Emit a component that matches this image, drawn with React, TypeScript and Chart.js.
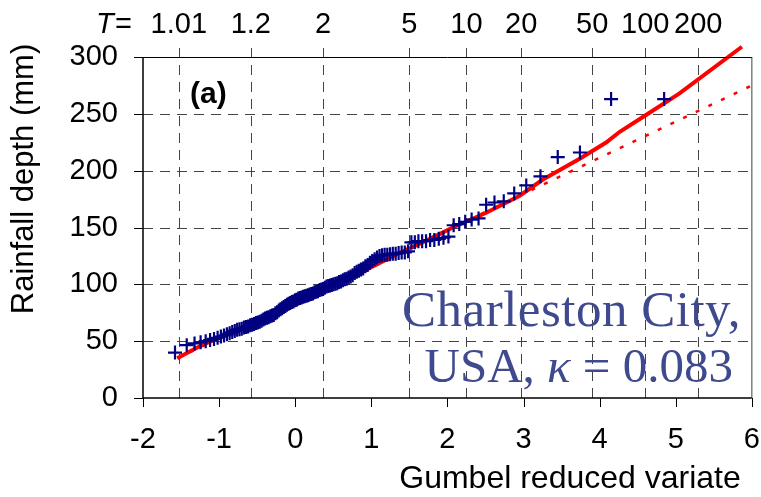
import React, { useEffect, useRef } from "react";
import { Chart, registerables } from "chart.js";

Chart.register(...registerables);

// Annual maximum daily rainfall depths (mm), sorted ascending
const depths = [
  40, 46.5, 48, 49, 50, 51, 52, 53, 54, 55,
  56, 57, 58, 59, 60, 60.5, 61, 62, 62.5, 63,
  64, 64.5, 65, 66, 66.5, 67, 68, 69, 70, 70.5,
  71, 72, 72.5, 73, 74.5, 75.5, 77, 78, 79, 80,
  81, 82, 83, 83.5, 84.5, 85, 86, 86.5, 87.5, 88,
  88.5, 89, 89.5, 90, 90.5, 91, 91.5, 92, 93, 93.5,
  94, 95, 95.5, 96, 97, 98, 98.5, 99, 99.5, 100,
  100.5, 101, 102, 102.5, 103.5, 104.5, 105, 106, 107, 108,
  110, 111, 112, 113, 114, 116, 117, 119, 120.5, 122,
  123.5, 125, 125.5, 126, 126, 126.5, 127, 127, 127.5, 128,
  128, 129, 137, 137, 138, 138, 138, 139, 139, 140,
  141, 142, 152, 153, 155, 157, 158, 170, 172, 173,
  180, 187, 195, 212, 216, 263, 263,
];

// GEV fitted curve (solid red)
const gevVariate = [-1.55, -1.3, -1.03, -0.5, 0, 0.5, 1.0, 1.37, 1.77, 2.07, 2.51, 2.95, 3.25, 3.75, 4.09, 4.26, 4.61, 5.05, 5.87];
const gevDepth = [35, 44, 52.5, 67, 82, 98, 115, 127.5, 140, 150, 163, 178, 192, 211, 225, 234, 249, 268, 309];

// Gumbel fitted line (dotted red)
const gumbelVariate = [-1.55, 6];
const gumbelDepth = [35, 275];

// Return periods shown on top
const returnPeriods = [1.01, 1.2, 2, 5, 10, 20, 50, 100, 200];
const returnPeriodLabels = ["1.01", "1.2", "2", "5", "10", "20", "50", "100", "200"];

const xMin = -2, xMax = 6, xStep = 1;
const yMin = 0, yMax = 300, yStep = 50;

const reducedVariate = (T: number) => -Math.log(-Math.log(1 - 1 / T));
const plottingPosition = (rank: number, n: number) => -Math.log(-Math.log(rank / (n + 1)));

const SANS = "'Liberation Sans', Arial, sans-serif";
const SERIF = "'Liberation Serif', 'Times New Roman', serif";

const decorPlugin = {
  id: "decor",
  beforeDatasetsDraw(chart: any) {
    const { ctx, chartArea: a, scales } = chart;
    const xs = scales.x, ys = scales.y;
    ctx.save();
    ctx.strokeStyle = "#444";
    ctx.lineWidth = 1;
    ctx.setLineDash([10, 7]);
    for (let v = yMin + yStep; v < yMax; v += yStep) {
      const py = Math.round(ys.getPixelForValue(v)) + 0.5;
      ctx.beginPath();
      ctx.moveTo(a.left, py);
      ctx.lineTo(a.right, py);
      ctx.stroke();
    }
    for (const T of returnPeriods) {
      const px = Math.round(xs.getPixelForValue(reducedVariate(T))) + 0.5;
      ctx.beginPath();
      ctx.moveTo(px, a.top - 9);
      ctx.lineTo(px, a.bottom);
      ctx.stroke();
    }
    ctx.restore();
  },
  afterDatasetsDraw(chart: any) {
    const { ctx, chartArea: a, scales } = chart;
    const xs = scales.x, ys = scales.y;
    ctx.save();
    ctx.setLineDash([]);
    ctx.strokeStyle = "#808080";
    ctx.lineWidth = 1.5;
    ctx.beginPath();
    ctx.moveTo(a.right, a.top);
    ctx.lineTo(a.right, a.bottom);
    ctx.stroke();
    ctx.strokeStyle = "#000";
    ctx.lineWidth = 1;
    ctx.beginPath();
    ctx.moveTo(a.left, a.top + 0.5);
    ctx.lineTo(a.right, a.top + 0.5);
    ctx.stroke();
    ctx.lineWidth = 1.5;
    ctx.beginPath();
    ctx.moveTo(a.left, a.top);
    ctx.lineTo(a.left, a.bottom);
    ctx.lineTo(a.right, a.bottom);
    ctx.stroke();
    ctx.lineWidth = 1;
    for (let v = yMin; v <= yMax; v += yStep) {
      const py = Math.round(ys.getPixelForValue(v)) + 0.5;
      ctx.beginPath();
      ctx.moveTo(a.left - 9, py);
      ctx.lineTo(a.left, py);
      ctx.stroke();
    }
    for (let v = xMin; v <= xMax; v += xStep) {
      const px = Math.round(xs.getPixelForValue(v)) + 0.5;
      ctx.beginPath();
      ctx.moveTo(px, a.bottom);
      ctx.lineTo(px, a.bottom + 9);
      ctx.stroke();
    }
    ctx.restore();
  },
  afterDraw(chart: any) {
    const { ctx, scales } = chart;
    const xs = scales.x;
    ctx.save();
    ctx.fillStyle = "#000";
    ctx.font = `29px ${SANS}`;
    ctx.textAlign = "center";
    ctx.textBaseline = "alphabetic";
    returnPeriods.forEach((T, i) => {
      const px = xs.getPixelForValue(reducedVariate(T));
      ctx.fillText(returnPeriodLabels[i], px, 33);
    });
    ctx.textAlign = "left";
    ctx.font = `italic 29px ${SANS}`;
    ctx.fillText("T", 96, 33);
    ctx.font = `29px ${SANS}`;
    ctx.fillText("=", 115, 33);
    ctx.font = `bold 30px ${SANS}`;
    ctx.fillText("(a)", 190, 103);
    ctx.font = `32px ${SANS}`;
    ctx.textAlign = "center";
    ctx.fillText("Gumbel reduced variate", 570, 488);
    ctx.font = `31px ${SANS}`;
    ctx.save();
    ctx.translate(33, 179);
    ctx.rotate(-Math.PI / 2);
    ctx.fillText("Rainfall depth (mm)", 0, 0);
    ctx.restore();
    // station annotation
    ctx.fillStyle = "#3F4A8E";
    ctx.textAlign = "right";
    ctx.font = `51px ${SERIF}`;
    (ctx as any).letterSpacing = "0.5px";
    ctx.fillText("Charleston City,", 741, 326);
    (ctx as any).letterSpacing = "0px";
    const right = 733;
    const partA = "USA, ";
    const partK = "\u03BA";
    const partB = " = 0.083";
    ctx.font = `49px ${SERIF}`;
    const wB = ctx.measureText(partB).width;
    const wA = ctx.measureText(partA).width;
    ctx.font = `italic 49px ${SERIF}`;
    const wK = ctx.measureText(partK).width;
    ctx.textAlign = "left";
    let x = right - wA - wK - wB;
    ctx.font = `49px ${SERIF}`;
    ctx.fillText(partA, x, 382);
    x += wA;
    ctx.font = `italic 49px ${SERIF}`;
    ctx.fillText(partK, x, 382);
    x += wK;
    ctx.font = `49px ${SERIF}`;
    ctx.fillText(partB, x, 382);
    ctx.restore();
  },
};

export default function App() {
  const ref = useRef<HTMLCanvasElement | null>(null);
  useEffect(() => {
    if (!ref.current) return;
    const n = depths.length;
    const obs = depths.map((d, i) => ({ x: plottingPosition(i + 1, n), y: d }));
    const gev = gevVariate.map((u, i) => ({ x: u, y: gevDepth[i] }));
    const gum = gumbelVariate.map((u, i) => ({ x: u, y: gumbelDepth[i] }));
    const tickFont = { family: SANS, size: 29 };
    const chart = new Chart(ref.current, {
      type: "scatter",
      data: {
        datasets: [
          {
            label: "Observed",
            data: obs,
            showLine: false,
            pointStyle: "cross",
            pointRadius: 7,
            pointBorderWidth: 2.2,
            pointBorderColor: "#000080",
            pointBackgroundColor: "#000080",
          },
          {
            label: "GEV",
            data: gev,
            showLine: true,
            borderColor: "#FF0000",
            borderWidth: 4,
            pointRadius: 0,
            fill: false,
            clip: false,
          } as any,
          {
            label: "Gumbel",
            data: gum,
            showLine: true,
            borderColor: "#FF0000",
            borderWidth: 2.5,
            borderDash: [4, 10],
            pointRadius: 0,
            fill: false,
          },
        ],
      },
      options: {
        animation: false,
        responsive: true,
        maintainAspectRatio: false,
        layout: { padding: { top: 57, right: 9, left: 0, bottom: 0 } },
        plugins: { legend: { display: false }, tooltip: { enabled: false } },
        scales: {
          x: {
            type: "linear",
            min: xMin,
            max: xMax,
            ticks: { stepSize: xStep, font: tickFont, color: "#000", padding: 0, maxRotation: 0, autoSkip: false },
            grid: { display: false, drawTicks: true, tickLength: 25 },
            border: { display: false },
            afterFit: (s: any) => { s.height = 99; },
          },
          y: {
            type: "linear",
            min: yMin,
            max: yMax,
            ticks: { stepSize: yStep, font: tickFont, color: "#000", padding: 0 },
            grid: { display: false, drawTicks: true, tickLength: 25 },
            border: { display: false },
            afterFit: (s: any) => { s.width = 143; },
          },
        },
      },
      plugins: [decorPlugin],
    });
    return () => chart.destroy();
  }, []);
  return (
    <div style={{ position: "fixed", left: 0, top: 0, width: 761, height: 497, background: "#fff" }}>
      <canvas ref={ref} />
    </div>
  );
}
